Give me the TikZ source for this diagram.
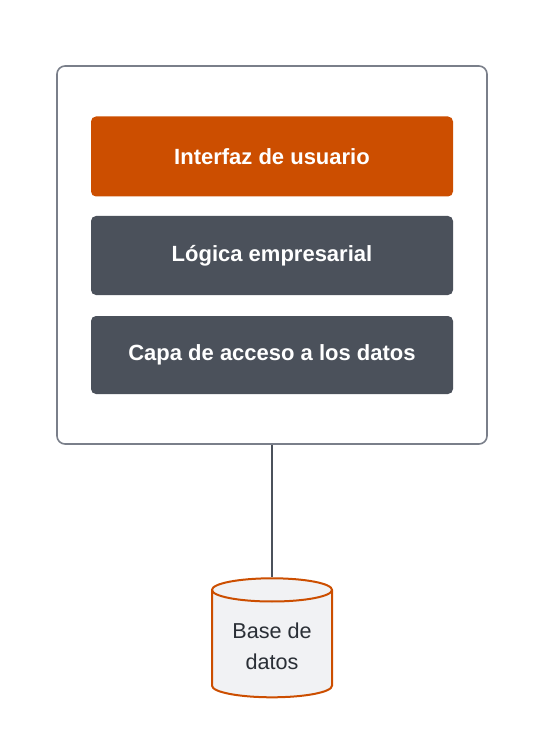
\documentclass[tikz,border=0pt]{standalone}
\usepackage{fontspec}
\setmainfont{Liberation Sans}
\usetikzlibrary{shapes.geometric}
\definecolor{naranja}{HTML}{CC4E00}
\definecolor{pizarra}{HTML}{4B515B}
\definecolor{marco}{HTML}{7A7F8A}
\definecolor{texto}{HTML}{2A2F36}
\definecolor{relleno}{HTML}{F1F2F4}
\tikzset{
    capa/.style={rounded corners=5pt,minimum width=362pt,minimum height=80pt,
        text=white,font=\fontsize{22}{26}\selectfont\bfseries},
}
\begin{document}
\begin{tikzpicture}[x=1pt,y=-1pt]
        \useasboundingbox (0,0) rectangle (558,735);
        %%%%%%%%% Marco %%%%%%%%%
        \node[draw=marco,line width=1.6pt,rounded corners=8pt,minimum width=430pt,minimum height=378pt] (app) at (272,255) {};

        %%%%%%%%% Capas %%%%%%%%%
        \node[capa,fill=naranja] (ui) at (272,156.5) {Interfaz de usuario};
        \node[capa,fill=pizarra,minimum height=79pt] (logica) at (272,255.5) {Lógica empresarial};
        \node[capa,fill=pizarra,minimum height=78pt] (acceso) at (272,355) {Capa de acceso a los datos};

        %%%%%%%%% Base de datos %%%%%%%%%
        \node[cylinder,shape border rotate=90,aspect=0.27,draw=naranja,fill=relleno,line width=2pt,
            minimum width=120pt,minimum height=119pt,text=texto,align=center,
            font=\fontsize{21.6}{31}\selectfont] (bd) at (272,646) {Base de\\datos};

        %%%%%%%%% Conexion %%%%%%%%%
        \draw[pizarra,line width=1.4pt] (app.south) -- (bd.top);
    \end{tikzpicture}
\end{document}
